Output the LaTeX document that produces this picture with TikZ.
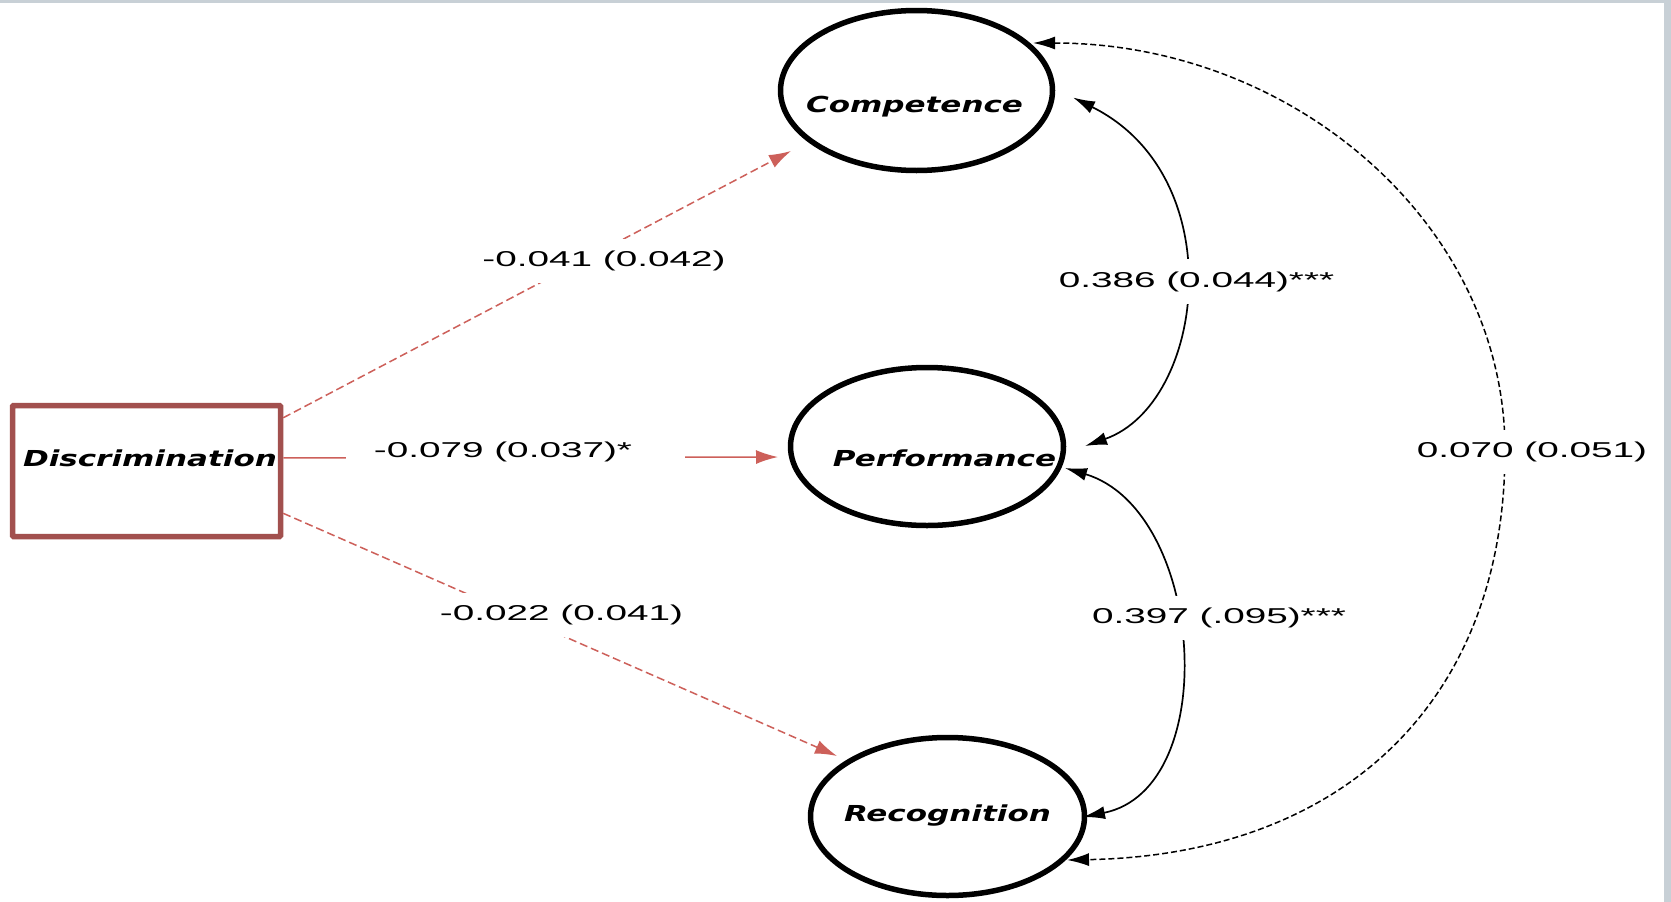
\documentclass[tikz,border=0pt]{standalone}
\usepackage{fontspec}
\usepackage{graphicx}
\setmainfont{Liberation Sans}
\newfontfamily\nodefont{DejaVu Sans Bold Oblique}
\usetikzlibrary{arrows.meta,calc,shapes.geometric}
\definecolor{redline}{RGB}{205,96,90}
\definecolor{boxred}{RGB}{162,80,78}
\definecolor{edgegrey}{RGB}{200,208,214}
\newcommand\lab[1]{\scalebox{1.8}[1]{\fontsize{21.5}{22}\selectfont #1}}
\newcommand\nt[2][0pt]{\makebox[0pt]{\hspace*{#1}\scalebox{1.41}[1]{\nodefont\fontsize{22}{22}\selectfont #2}}}
\begin{document}
\begin{tikzpicture}[x=1pt,y=-1pt,
  latent/.style={draw=black,line width=5.5pt,ellipse,inner sep=0pt},
  obsbox/.style={draw=boxred,line width=5.5pt,rectangle,rounded corners=1pt,inner sep=0pt},
  redpath/.style={draw=redline,line width=1.5pt,-{Latex[length=22pt,width=14pt]}},
  reddash/.style={redpath,dash pattern=on 8pt off 4pt},
  covpath/.style={draw=black,line width=1.7pt,{Latex[length=22pt,width=13pt]}-{Latex[length=22pt,width=13pt]}},
  covdash/.style={covpath,line width=1.5pt,dash pattern=on 6pt off 3pt},
  lbl/.style={fill=white,inner xsep=4pt,inner ysep=12pt}]
\useasboundingbox (0,0) rectangle (1671,902);
\fill[white] (0,0) rectangle (1671,902);
\fill[edgegrey] (0,0) rectangle (1671,3);
\fill[edgegrey] (1664,0) rectangle (1671,902);

% nodes
\node[obsbox,minimum width=268pt,minimum height=131pt,text height=0pt,text depth=10pt] (disc) at (146.5,471) {\nt[7pt]{Discrimination}};
\node[latent,minimum width=272pt,minimum height=160pt,text height=43pt,text depth=0pt] (comp) at (916.5,90.5) {\nt[-4pt]{Competence}};
\node[latent,minimum width=273pt,minimum height=158pt,text height=39pt,text depth=0pt] (perf) at (927,446.5) {\nt[35pt]{Performance}};
\node[latent,minimum width=274pt,minimum height=158pt,text height=9pt,text depth=0pt] (rec) at (947.5,816.5) {\nt{Recognition}};
\coordinate (arcmid) at (1505,450);

% regression paths
\draw[reddash] ($(disc.north east)!0.11!(disc.south east)$) -- ($(comp.center)+(-125.5,60.5)$);
\draw[redpath] ($(disc.north east)!0.404!(disc.south east)$) -- ($(perf.center)+(-149,10.5)$);
\draw[reddash] ($(disc.north east)!0.81!(disc.south east)$) -- ($(rec.center)+(-110.5,-60.5)$);

% covariances
\draw[covpath] ($(comp.center)+(156.5,7)$) .. controls ($(comp.center)+(316.5,86.5)$) and ($(perf.center)+(278,-42.5)$) .. ($(perf.center)+(158,-0.5)$);
\draw[covpath] ($(perf.center)+(138,21.5)$) .. controls ($(perf.center)+(278,63.5)$) and ($(rec.center)+(275.5,-27.5)$) .. ($(rec.center)+(135.5,0.5)$);
\draw[covdash] ($(comp.center)+(116.5,-47.5)$) .. controls ($(comp.center)+(377.5,-47.5)$) and ($(arcmid)+(0,-225)$) .. (arcmid)
  .. controls ($(arcmid)+(0,254)$) and ($(rec.center)+(392.5,38.5)$) .. ($(rec.center)+(119.5,43.5)$);

% labels
\node[lbl] (l1) at (604,261) {\lab{-0.041 (0.042)}};
\node[lbl,inner xsep=28pt] (l2) at (515.5,452) {\lab{-0.079 (0.037)*}\hspace*{25pt}};
\node[lbl] (l3) at (561.5,615) {\lab{-0.022 (0.041)}};
\node[lbl] (l4) at (1196.5,281.5) {\lab{0.386 (0.044)***}};
\node[lbl] (l5) at (1219,618) {\lab{0.397 (.095)***}};
\node[lbl] (l6) at (1532,452) {\lab{0.070 (0.051)}};
\end{tikzpicture}
\end{document}
